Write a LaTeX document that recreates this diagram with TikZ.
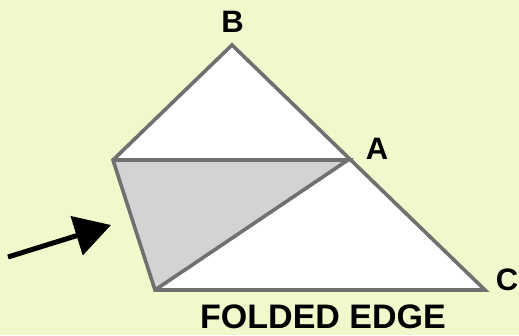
\documentclass[tikz,border=0pt]{standalone}
\usepackage{fontspec}
\newfontfamily\heavyfont{Liberation Sans Bold}
\usetikzlibrary{arrows.meta}
\definecolor{bgyellow}{RGB}{242,247,204}
\definecolor{edgegray}{RGB}{112,112,112}
\definecolor{foldgray}{RGB}{211,211,214}

\begin{document}
\begin{tikzpicture}[
        x=1pt, y=-1pt,
        edge/.style={draw=edgegray, line width=3.6pt, line join=miter},
        lbl/.style={font=\heavyfont\fontsize{31}{31}\selectfont, inner sep=0pt}
      ]
        \fill[bgyellow] (0,0) rectangle (519,335);
        \useasboundingbox (0,0) rectangle (519,335);
        % corner points
        \coordinate (B) at (232,45);
        \coordinate (A) at (348,160);
        \coordinate (L) at (113,160);
        \coordinate (D) at (155,290);
        \coordinate (C) at (485,290);
        % faces
        \fill[white] (B) -- (A) -- (L) -- cycle;
        \fill[white] (A) -- (C) -- (D) -- cycle;
        \fill[foldgray] (L) -- (A) -- (D) -- cycle;
        % edges
        \draw[edge] (L) -- (B) -- (C) -- (D) -- cycle;
        \draw[edge] (L) -- (A) -- (D);
        % labels
        \node[lbl] (labB) at (232.5,21.5) {B};
        \node[lbl] (labA) at (377,149) {A};
        \node[lbl] (labC) at (507,280) {C};
        \node[lbl, font=\heavyfont\fontsize{34}{34}\selectfont] (labF) at (323,317) {FOLDED EDGE};
        % arrow
        \coordinate (tail) at (8,257);
        \coordinate (tip) at (111,225);
        \draw[line width=5pt, -{Triangle[length=36pt, width=40pt]}] (tail) -- (tip);
      \end{tikzpicture}
\end{document}
